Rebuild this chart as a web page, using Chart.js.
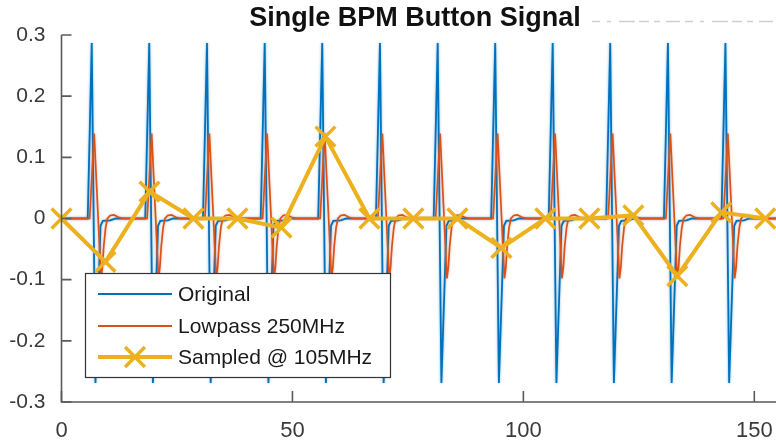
<!DOCTYPE html>
<html>
<head>
<meta charset="utf-8">
<script src="https://cdn.jsdelivr.net/npm/chart.js@4/dist/chart.umd.min.js"></script>
<style>
  html, body { margin: 0; padding: 0; background: #fff; overflow: hidden; }
  #wrap { width: 818px; height: 446px; position: relative; }
</style>
</head>
<body>
<div id="wrap"><canvas id="c" width="818" height="446"></canvas></div>
<script>
// Peak times of each button pulse (ns)
const pulseTimes = [6.55, 19.0, 31.5, 44.0, 56.45, 68.95, 81.45, 93.9, 106.35, 118.8, 131.3, 143.75];

// Shape of one raw pulse, time offsets relative to its peak
const originalOffsets = [-1.2, -0.87, 0, 0.41, 0.8, 1.9, 2.4, 4.0, 5.2];
const originalShape   = [0, 0, 0.287, 0, -0.269, -0.012, -0.004, -0.003, 0];

// Shape of one pulse after the 250 MHz lowpass
const lowpassOffsets = [-1.0, -0.45, 0.52, 2.0, 2.3, 2.6, 3.0, 3.4, 4.0, 4.8, 5.8, 6.8];
const lowpassShape   = [0, 0, 0.139, -0.098, -0.08, -0.045, -0.015, 0.0, 0.005, 0.006, 0.002, 0];

// ADC samples at 105 MHz
const sampleTimes  = [0, 9.52, 19.05, 28.57, 38.1, 47.62, 57.14, 66.67, 76.19, 85.71, 95.24, 104.76, 114.29, 123.81, 133.33, 142.86, 152.38];
const sampleValues = [0, -0.071, 0.044, 0, 0, -0.015, 0.134, 0, 0, 0, -0.048, 0, 0, 0.005, -0.094, 0.01, 0];

// Axes
const xTicks = [0, 50, 100, 150];
const yTicks = [-0.3, -0.2, -0.1, 0, 0.1, 0.2, 0.3];
const yTickLabels = ['-0.3', '-0.2', '-0.1', '0', '0.1', '0.2', '0.3'];
const xRange = [0, 160];
const yRange = [-0.3, 0.3];

const seriesNames = ['Original', 'Lowpass 250MHz', 'Sampled @ 105MHz'];
const titleText = 'Single BPM Button Signal';

const BLUE = '#0072BD', ORANGE = '#D95319', YELLOW = '#EDB120';
const FONT = '"Liberation Sans", Arial, sans-serif';

// repeat a pulse template at every pulse time
function buildTrace(offsets, shape) {
  const pts = [{ x: xRange[0], y: 0 }];
  pulseTimes.forEach(t => {
    offsets.forEach((o, i) => pts.push({ x: t + o, y: shape[i] }));
  });
  pts.push({ x: xRange[1], y: 0 });
  return pts;
}

const originalData = buildTrace(originalOffsets, originalShape);
const lowpassData = buildTrace(lowpassOffsets, lowpassShape);
const sampledData = sampleTimes.map((t, i) => ({ x: t, y: sampleValues[i] }));

function drawX(ctx, x, y, r, w) {
  const d = r * Math.SQRT1_2;
  ctx.save();
  ctx.strokeStyle = YELLOW;
  ctx.lineWidth = w;
  ctx.lineCap = 'butt';
  ctx.beginPath();
  ctx.moveTo(x - d, y - d); ctx.lineTo(x + d, y + d);
  ctx.moveTo(x - d, y + d); ctx.lineTo(x + d, y - d);
  ctx.stroke();
  ctx.restore();
}

// soft glow around the thin signal traces
const halo = {
  id: 'halo',
  beforeDatasetDraw(chart, args) {
    if (args.index > 1) return;
    const ctx = chart.ctx;
    ctx.save();
    ctx.shadowColor = args.index === 0 ? 'rgba(0,114,189,0.55)' : 'rgba(217,83,25,0.45)';
    ctx.shadowBlur = 2.5;
  },
  afterDatasetDraw(chart, args) {
    if (args.index > 1) return;
    chart.ctx.restore();
  }
};

// axes lines, inward ticks, title and the in-plot legend
const decor = {
  id: 'decor',
  afterDatasetsDraw(chart) {
    const ctx = chart.ctx;
    const a = chart.chartArea;
    const xs = chart.scales.x, ys = chart.scales.y;
    ctx.save();
    ctx.strokeStyle = '#5a5a5a';
    ctx.lineWidth = 1.6;
    ctx.beginPath();
    ctx.moveTo(a.left, a.top); ctx.lineTo(a.left, a.bottom); ctx.lineTo(a.right, a.bottom);
    ctx.stroke();
    ctx.beginPath();
    yTicks.forEach(v => {
      const y = ys.getPixelForValue(v);
      ctx.moveTo(a.left, y); ctx.lineTo(a.left + 10, y);
    });
    xTicks.forEach(v => {
      const x = xs.getPixelForValue(v);
      ctx.moveTo(x, a.bottom); ctx.lineTo(x, a.bottom - 11);
    });
    ctx.stroke();

    // faint clipped text strip at top right
    ctx.strokeStyle = '#cfcfcf';
    ctx.lineWidth = 1.5;
    ctx.setLineDash([8, 7, 4, 8, 16, 4, 10, 5, 6, 6, 14, 5]);
    ctx.beginPath();
    ctx.moveTo(592, 21.5); ctx.lineTo(776, 21.5);
    ctx.stroke();
    ctx.setLineDash([]);

    // title
    ctx.fillStyle = '#111';
    ctx.font = 'bold 27px ' + FONT;
    ctx.textAlign = 'center';
    ctx.textBaseline = 'alphabetic';
    ctx.fillText(titleText, 415, 26);

    // legend
    const L = 85.5, T = 273.5, R = 390.5, B = 377.5;
    ctx.fillStyle = '#fff';
    ctx.fillRect(L, T, R - L, B - T);
    ctx.strokeStyle = '#333';
    ctx.lineWidth = 1.2;
    ctx.strokeRect(L, T, R - L, B - T);
    const rows = [294, 326, 357];
    const colors = [BLUE, ORANGE, YELLOW];
    const widths = [1.8, 1.8, 4];
    rows.forEach((y, i) => {
      ctx.strokeStyle = colors[i];
      ctx.lineWidth = widths[i];
      ctx.beginPath();
      ctx.moveTo(98, y); ctx.lineTo(172, y);
      ctx.stroke();
      ctx.fillStyle = '#1a1a1a';
      ctx.font = '21px ' + FONT;
      ctx.textAlign = 'left';
      ctx.textBaseline = 'middle';
      ctx.fillText(seriesNames[i], 178, y + 1);
    });
    drawX(ctx, 135, 357, 14, 3.5);
    ctx.restore();
  }
};

new Chart(document.getElementById('c'), {
  type: 'line',
  data: {
    datasets: [
      { label: seriesNames[0], data: originalData, borderColor: BLUE, borderWidth: 1.8,
        pointRadius: 0, tension: 0, order: 3 },
      { label: seriesNames[1], data: lowpassData, borderColor: ORANGE, borderWidth: 1.7,
        pointRadius: 0, tension: 0, order: 2 },
      { label: seriesNames[2], data: sampledData, borderColor: YELLOW, borderWidth: 4,
        pointStyle: 'crossRot', pointRadius: 14, pointBorderWidth: 3.5,
        pointBorderColor: YELLOW, pointBackgroundColor: YELLOW,
        tension: 0, clip: false, order: 1 }
    ]
  },
  options: {
    responsive: false,
    animation: false,
    devicePixelRatio: 1,
    layout: { padding: { left: 0, right: 0, top: 35, bottom: 0 } },
    plugins: { legend: { display: false }, tooltip: { enabled: false }, title: { display: false } },
    scales: {
      x: {
        type: 'linear', min: xRange[0], max: xRange[1],
        afterBuildTicks: s => { s.ticks = xTicks.map(v => ({ value: v })); },
        afterFit: s => { s.height = 44; },
        grid: { display: false, drawTicks: false },
        border: { display: false },
        ticks: { color: '#3a3a3a', font: { family: FONT, size: 22 }, padding: 16, maxRotation: 0,
                 callback: v => String(v) }
      },
      y: {
        type: 'linear', min: yRange[0], max: yRange[1],
        afterBuildTicks: s => { s.ticks = yTicks.map(v => ({ value: v })); },
        afterFit: s => { s.width = 61.5; },
        grid: { display: false, drawTicks: false },
        border: { display: false },
        ticks: { color: '#3a3a3a', font: { family: FONT, size: 21 }, padding: 16,
                 callback: (v, i) => yTickLabels[i] }
      }
    }
  },
  plugins: [halo, decor]
});
</script>
</body>
</html>
